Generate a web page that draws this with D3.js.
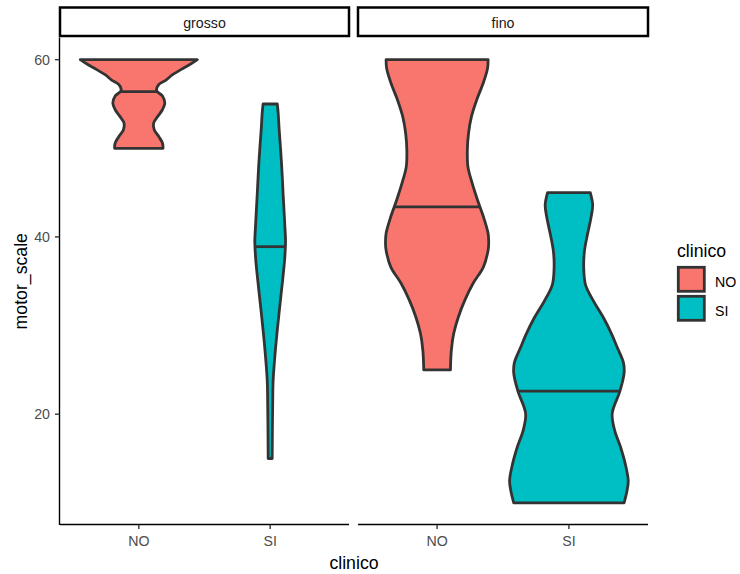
<!DOCTYPE html>
<html>
<head>
<meta charset="utf-8">
<script src="https://cdn.jsdelivr.net/npm/d3@7"></script>
<style>
  html, body { margin: 0; padding: 0; background: #ffffff; }
  svg { display: block; font-family: "Liberation Sans", Arial, sans-serif; }
</style>
</head>
<body>
<svg id="chart" width="740" height="574"></svg>
<script>
// Categories, facets and ticks
const categories = ["NO", "SI"];
const facets = ["grosso", "fino"];
const yTicks = [20, 40, 60];

// Violin profiles: [motor_scale, relative width (1 = widest violin)]
const grossoNO = [[50,0.41],[50.6,0.40],[51.3,0.34],[52.1,0.26],[52.85,0.25],[53.6,0.32],[54.35,0.40],[55.1,0.44],[55.9,0.40],[56.5,0.30],[57.2,0.34],[57.7,0.46],[58.3,0.57],[58.9,0.72],[59.4,0.85],[60,0.99]];
const grossoSI = [[15,0.034],[18,0.037],[21,0.042],[23.8,0.05],[27.6,0.093],[31.4,0.15],[35.1,0.21],[37.5,0.245],[39.5,0.26],[41,0.25],[44.7,0.22],[48.5,0.19],[52.3,0.15],[54,0.135],[55,0.12]];
const finoNO = [[25,0.225],[27.2,0.24],[29.1,0.28],[31,0.36],[32.9,0.47],[34.8,0.61],[36.6,0.78],[38.5,0.86],[39.3,0.87],[40.4,0.86],[42.3,0.78],[44.2,0.68],[46.1,0.59],[47.9,0.52],[49.8,0.51],[51.7,0.53],[53.6,0.58],[55.5,0.67],[57.4,0.78],[59,0.85],[60,0.86]];
const finoSI = [[10,0.93],[11.4,0.98],[12.5,1.0],[14.4,0.95],[16.3,0.87],[18.2,0.77],[20.1,0.73],[22.6,0.86],[24.6,0.93],[25.8,0.92],[27.6,0.81],[28.9,0.73],[30.8,0.59],[32.7,0.42],[34.6,0.28],[36.5,0.25],[38.3,0.26],[40.2,0.31],[42.1,0.37],[43.6,0.40],[45,0.36]];

// Medians (0.5 quantile) per facet, in category order
const mediansGrosso = [56.4, 38.9];
const mediansFino = [43.4, 22.6];

const profiles = { grosso: [grossoNO, grossoSI], fino: [finoNO, finoSI] };
const medians = { grosso: mediansGrosso, fino: mediansFino };

const fillColor = d3.scaleOrdinal().domain(categories).range(["#F8766D", "#00BFC4"]);
const outline = "#333333";
const violinStroke = 2.8;
const smallFont = "14.2px", bigFont = "17.7px";

const svg = d3.select("#chart");
svg.append("rect").attr("width", 740).attr("height", 574).attr("fill", "#ffffff");

const panelTop = 37.5, panelBottom = 525;
const panelsX = [[60, 349], [358, 648]];
const y = d3.scaleLinear().domain([7.5, 62.5]).range([panelBottom, panelTop]);

function widthAt(profile, v) {
  for (let i = 1; i < profile.length; i++) {
    if (v <= profile[i][0]) {
      const [v0, w0] = profile[i - 1], [v1, w1] = profile[i];
      return w0 + (w1 - w0) * (v - v0) / (v1 - v0);
    }
  }
  return profile[profile.length - 1][1];
}

facets.forEach((facet, fi) => {
  const [x0, x1] = panelsX[fi];
  const x = d3.scalePoint().domain(categories).range([x0, x1]).padding(0.6);
  const halfMax = 0.45 * x.step();
  const w = d3.scaleLinear().domain([0, 1]).range([0, halfMax]);

  const g = svg.append("g");

  // strip
  g.append("rect")
    .attr("x", x0).attr("y", 7.5)
    .attr("width", x1 - x0).attr("height", 28.5)
    .attr("fill", "#ffffff").attr("stroke", "#000000").attr("stroke-width", 2.5);
  g.append("text")
    .attr("x", (x0 + x1) / 2).attr("y", 28)
    .attr("text-anchor", "middle")
    .attr("font-size", smallFont).attr("fill", "#1A1A1A")
    .text(facet);

  // violins
  categories.forEach((cat, ci) => {
    const prof = profiles[facet][ci];
    const cx = x(cat);
    const area = d3.area()
      .y(d => y(d[0]))
      .x0(d => cx - w(d[1]))
      .x1(d => cx + w(d[1]))
      .curve(d3.curveCatmullRom.alpha(0.5));
    g.append("path")
      .datum(prof)
      .attr("d", area)
      .attr("fill", fillColor(cat))
      .attr("stroke", outline)
      .attr("stroke-width", violinStroke)
      .attr("stroke-linejoin", "round");
    const m = medians[facet][ci];
    const mw = w(widthAt(prof, m));
    g.append("line")
      .attr("x1", cx - mw).attr("x2", cx + mw)
      .attr("y1", y(m)).attr("y2", y(m))
      .attr("stroke", outline).attr("stroke-width", violinStroke);
  });

  // x axis
  const xAxis = g.append("g").attr("transform", `translate(0,${panelBottom - 0.5})`);
  xAxis.append("line").attr("x1", x0).attr("x2", x1).attr("stroke", "#000").attr("stroke-width", 1.4);
  categories.forEach(cat => {
    xAxis.append("line").attr("x1", x(cat)).attr("x2", x(cat)).attr("y1", 0).attr("y2", 4.5)
      .attr("stroke", "#333333").attr("stroke-width", 1.4);
    xAxis.append("text").attr("x", x(cat)).attr("y", 21.5).attr("text-anchor", "middle")
      .attr("font-size", smallFont).attr("fill", "#4D4D4D").text(cat);
  });

  // y axis only on the first panel
  if (fi === 0) {
    const yAxis = g.append("g").attr("transform", `translate(${x0 - 0.5},0)`);
    yAxis.append("line").attr("y1", panelTop).attr("y2", panelBottom).attr("stroke", "#000").attr("stroke-width", 1.4);
    yTicks.forEach(t => {
      yAxis.append("line").attr("x1", -4.5).attr("x2", 0).attr("y1", y(t)).attr("y2", y(t))
        .attr("stroke", "#333333").attr("stroke-width", 1.4);
      yAxis.append("text").attr("x", -9.5).attr("y", y(t) + 5.1).attr("text-anchor", "end")
        .attr("font-size", smallFont).attr("fill", "#4D4D4D").text(t);
    });
  }
});

// axis titles
svg.append("text").attr("x", (panelsX[0][0] + panelsX[1][1]) / 2).attr("y", 569)
  .attr("text-anchor", "middle").attr("font-size", bigFont).attr("fill", "#000").text("clinico");
svg.append("text")
  .attr("transform", `translate(27,${(panelTop + panelBottom) / 2}) rotate(-90)`)
  .attr("text-anchor", "middle").attr("font-size", bigFont).attr("fill", "#000").text("motor_scale");

// legend
const legend = svg.append("g").attr("transform", "translate(677,0)");
legend.append("text").attr("x", 0).attr("y", 256.5).attr("font-size", bigFont).attr("fill", "#000").text("clinico");
categories.forEach((cat, i) => {
  const ky = 267.3 + i * 29;
  legend.append("rect").attr("x", 1.3).attr("y", ky).attr("width", 26).attr("height", 24)
    .attr("fill", fillColor(cat)).attr("stroke", outline).attr("stroke-width", 2.8);
  legend.append("text").attr("x", 38).attr("y", ky + 19.3)
    .attr("font-size", smallFont).attr("fill", "#000").text(cat);
});
</script>
</body>
</html>
